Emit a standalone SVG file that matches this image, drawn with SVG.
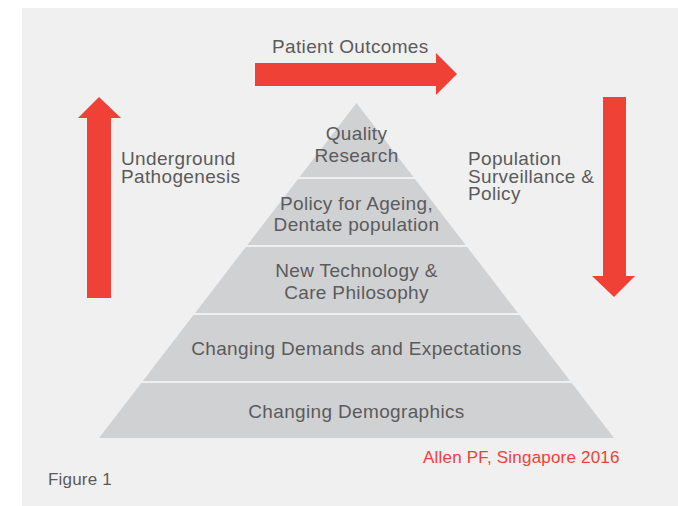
<svg xmlns="http://www.w3.org/2000/svg" width="678" height="506" viewBox="0 0 678 506">
<style>
.t{font-family:"Liberation Sans",Arial,Helvetica,sans-serif;font-size:19px;letter-spacing:0.35px;fill:#5b5b5c}
.s{font-size:17px;letter-spacing:0.2px}
.c{text-anchor:middle}
.layer{fill:#d0d1d3}
.arrow{fill:#ef4136}
</style>
<rect width="678" height="506" fill="#ffffff"/>
<rect x="22" y="8" width="656" height="498" fill="#f0f0f0"/>
<g id="pyramid-quality">
<polygon class="layer" points="356.5,103 413.4,177 299.6,177"/>
<text class="t c" x="356.5" y="140">Quality</text>
<text class="t c" x="356.5" y="162">Research</text>
</g>
<g id="pyramid-policy">
<polygon class="layer" points="298.1,179 414.9,179 465.7,245 247.3,245"/>
<text class="t c" x="356.5" y="210">Policy for Ageing,</text>
<text class="t c" x="356.5" y="231">Dentate population</text>
</g>
<g id="pyramid-technology">
<polygon class="layer" points="245.8,247 467.2,247 517.9,313 195.1,313"/>
<text class="t c" x="356.5" y="277">New Technology &amp;</text>
<text class="t c" x="356.5" y="299">Care Philosophy</text>
</g>
<g id="pyramid-demands">
<polygon class="layer" points="193.5,315 519.5,315 570.2,381 142.8,381"/>
<text class="t c" x="356.5" y="355">Changing Demands and Expectations</text>
</g>
<g id="pyramid-demographics">
<polygon class="layer" points="141.3,383 571.7,383 614,438 99,438"/>
<text class="t c" x="356.5" y="418">Changing Demographics</text>
</g>
<g id="connectors">
<polygon class="arrow" points="87,298 87,118 78,118 99,97 121,118 111,118 111,298"/>
<polygon class="arrow" points="255,63 436,63 436,53 457,74 436,95 436,86 255,86"/>
<polygon class="arrow" points="603,97 626,97 626,276 635,276 614,297 592,276 603,276"/>
</g>
<g id="label-patient-outcomes"><text class="t" x="272" y="53">Patient Outcomes</text></g>
<g id="label-underground">
<text class="t" x="121" y="165">Underground</text>
<text class="t" x="121" y="183">Pathogenesis</text>
</g>
<g id="label-population">
<text class="t" x="468" y="165">Population</text>
<text class="t" x="468" y="183">Surveillance &amp;</text>
<text class="t" x="468" y="200">Policy</text>
</g>
<text class="t s" x="423" y="463" style="fill:#ef4136">Allen PF, Singapore 2016</text>
<text class="t s" x="48" y="485">Figure 1</text>
</svg>
